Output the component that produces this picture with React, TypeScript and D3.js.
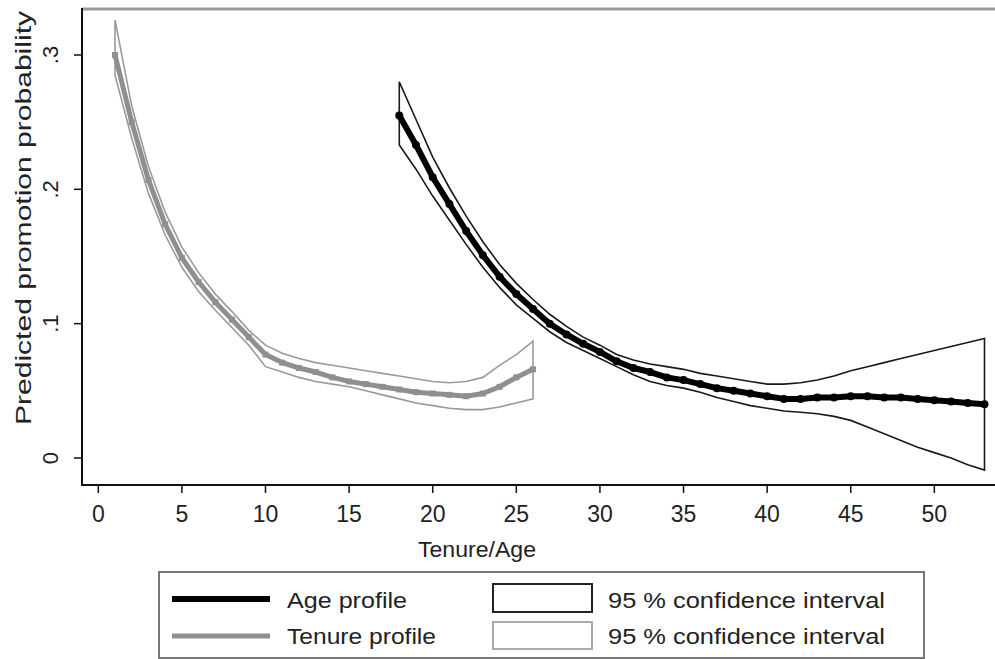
import React from 'react';
import * as d3 from 'd3';

// Tenure profile (grey), tenure 1..26
const tenureX = d3.range(1, 27);
const tenureVal = [0.300, 0.250, 0.207, 0.174, 0.149, 0.131, 0.116, 0.103, 0.090, 0.077, 0.071, 0.067, 0.064,
  0.060, 0.057, 0.055, 0.053, 0.051, 0.049, 0.048, 0.047, 0.046, 0.048, 0.053, 0.060, 0.066];
const tenureHi = [0.326, 0.262, 0.217, 0.183, 0.157, 0.138, 0.122, 0.109, 0.095, 0.084, 0.078, 0.074, 0.071,
  0.069, 0.067, 0.065, 0.063, 0.061, 0.059, 0.057, 0.056, 0.057, 0.060, 0.069, 0.077, 0.087];
const tenureLo = [0.285, 0.238, 0.197, 0.166, 0.142, 0.124, 0.110, 0.097, 0.084, 0.068, 0.064, 0.060, 0.057,
  0.055, 0.053, 0.050, 0.047, 0.044, 0.041, 0.039, 0.037, 0.036, 0.036, 0.038, 0.041, 0.044];

// Age profile (black), age 18..53
const ageX = d3.range(18, 54);
const ageVal = [0.255, 0.233, 0.209, 0.189, 0.169, 0.151, 0.135, 0.122, 0.111, 0.100, 0.092, 0.085, 0.079,
  0.072, 0.067, 0.064, 0.060, 0.058, 0.055, 0.052, 0.050, 0.048, 0.046, 0.044, 0.044, 0.045, 0.045, 0.046,
  0.046, 0.045, 0.045, 0.044, 0.043, 0.042, 0.041, 0.040];
const ageHi = [0.280, 0.252, 0.224, 0.201, 0.180, 0.161, 0.144, 0.130, 0.118, 0.107, 0.098, 0.090, 0.084,
  0.077, 0.073, 0.070, 0.068, 0.066, 0.063, 0.061, 0.059, 0.057, 0.055, 0.055, 0.056, 0.058, 0.061, 0.065,
  0.068, 0.071, 0.074, 0.077, 0.080, 0.083, 0.086, 0.089];
const ageLo = [0.233, 0.215, 0.195, 0.177, 0.159, 0.142, 0.127, 0.114, 0.104, 0.094, 0.086, 0.080, 0.074,
  0.068, 0.062, 0.057, 0.054, 0.052, 0.049, 0.045, 0.042, 0.039, 0.037, 0.035, 0.034, 0.033, 0.031, 0.028,
  0.023, 0.018, 0.013, 0.008, 0.004, 0.000, -0.005, -0.009];

const xTicks = [0, 5, 10, 15, 20, 25, 30, 35, 40, 45, 50];
const yTicks = [0, 0.1, 0.2, 0.3];
const yTickLabels = ['0', '.1', '.2', '.3'];

const FONT = 'Liberation Sans, Arial, sans-serif';
const GREY = '#8f8f8f';

export default function App() {
  const x = d3.scaleLinear().domain([0, 53]).range([98.3, 984.5]);
  const y = d3.scaleLinear().domain([0, 0.3]).range([458, 55]);

  const line = d3.line<[number, number]>().x(d => x(d[0])).y(d => y(d[1]));
  const band = (xs: number[], hi: number[], lo: number[]) => {
    const pts: [number, number][] = xs.map((v, i) => [v, hi[i]] as [number, number])
      .concat(xs.map((v, i) => [v, lo[i]] as [number, number]).reverse());
    return line(pts) + 'Z';
  };
  const tenurePts = tenureX.map((v, i) => [v, tenureVal[i]] as [number, number]);
  const agePts = ageX.map((v, i) => [v, ageVal[i]] as [number, number]);

  return (
    <svg width={995} height={659} style={{ position: 'absolute', left: 0, top: 0, background: '#fff' }}
      fontFamily={FONT}>
      {/* frame */}
      <line x1={82} x2={995} y1={9} y2={9} stroke="#999" strokeWidth={3} />
      <line x1={82} x2={82} y1={8} y2={486} stroke="#111" strokeWidth={2} />
      <line x1={81} x2={995} y1={485} y2={485} stroke="#111" strokeWidth={2} />

      {/* y axis */}
      {yTicks.map((t, i) => (
        <g key={'y' + t}>
          <line x1={74} x2={82} y1={y(t)} y2={y(t)} stroke="#111" strokeWidth={1.5} />
          <text transform={`translate(58,${y(t)}) rotate(-90)`} textAnchor="middle" fontSize={22} fill="#222">
            {yTickLabels[i]}
          </text>
        </g>
      ))}
      <text transform="translate(31,218) rotate(-90)" textAnchor="middle" fontSize={22} fill="#222"
        textLength={414} lengthAdjust="spacingAndGlyphs">Predicted promotion probability</text>

      {/* x axis */}
      {xTicks.map(t => (
        <g key={'x' + t}>
          <line x1={x(t)} x2={x(t)} y1={485} y2={493} stroke="#111" strokeWidth={1.5} />
          <text x={x(t)} y={522} textAnchor="middle" fontSize={23} fill="#222">{t}</text>
        </g>
      ))}
      <text x={477} y={557} textAnchor="middle" fontSize={22} fill="#222"
        textLength={118} lengthAdjust="spacingAndGlyphs">Tenure/Age</text>

      {/* confidence bands */}
      <path d={band(tenureX, tenureHi, tenureLo)} fill="none" stroke="#9a9a9a" strokeWidth={1.6} />
      <path d={band(ageX, ageHi, ageLo)} fill="none" stroke="#1a1a1a" strokeWidth={1.6} />

      {/* profiles */}
      <path d={line(tenurePts) || ''} fill="none" stroke={GREY} strokeWidth={5} strokeLinejoin="round" />
      {tenurePts.map(p => (
        <rect key={'tm' + p[0]} x={x(p[0]) - 3} y={y(p[1]) - 3} width={6} height={6} fill={GREY} />
      ))}
      <path d={line(agePts) || ''} fill="none" stroke="#000" strokeWidth={6} strokeLinejoin="round" />
      {agePts.map(p => (
        <circle key={'am' + p[0]} cx={x(p[0])} cy={y(p[1])} r={4} fill="#000" />
      ))}

      {/* legend */}
      <rect x={159} y={572} width={765} height={86} fill="#fff" stroke="#777" strokeWidth={2} />
      <line x1={172} x2={270} y1={599} y2={599} stroke="#000" strokeWidth={6} />
      <line x1={172} x2={270} y1={636} y2={636} stroke={GREY} strokeWidth={5} />
      <text x={287} y={608} fontSize={22} fill="#222" textLength={120} lengthAdjust="spacingAndGlyphs">Age profile</text>
      <text x={287} y={644} fontSize={22} fill="#222" textLength={149} lengthAdjust="spacingAndGlyphs">Tenure profile</text>
      <rect x={493} y={584} width={99} height={28} fill="#fff" stroke="#222" strokeWidth={2} />
      <rect x={493} y={622} width={99} height={27} fill="#fff" stroke="#aaa" strokeWidth={2} />
      <text x={608} y={608} fontSize={22} fill="#222" textLength={277} lengthAdjust="spacingAndGlyphs">95 % confidence interval</text>
      <text x={608} y={644} fontSize={22} fill="#222" textLength={277} lengthAdjust="spacingAndGlyphs">95 % confidence interval</text>
    </svg>
  );
}
